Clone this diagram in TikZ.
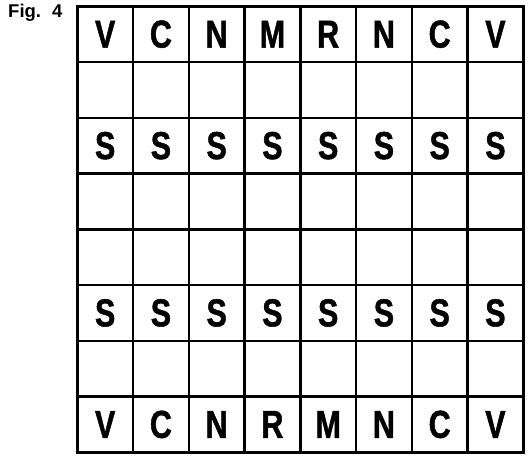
\documentclass[tikz,border=0pt]{standalone}
\usepackage{fontspec}
\setmainfont{Liberation Sans}
\newfontfamily\condbold{Liberation Sans}[FakeStretch=0.78,BoldFeatures={FakeBold=1.2}]
\begin{document}
\begin{tikzpicture}[x=1pt,y=1pt,
  cell/.style={draw=black,line width=2.6pt,minimum width=55.75pt,minimum height=55.75pt,inner sep=0pt,anchor=north west,
    font=\condbold\bfseries\fontsize{39}{39}\selectfont},
  figlabel/.style={anchor=base west,inner sep=0pt,font=\bfseries\fontsize{18.5}{18.5}\selectfont}]
\useasboundingbox (0,0) rectangle (530,459);
\def\rowA{{"V","C","N","M","R","N","C","V"}}
\def\rowB{{"V","C","N","R","M","N","C","V"}}
\foreach \r in {0,...,7}{
  \foreach \c in {0,...,7}{
    \pgfmathsetmacro{\xx}{76+55.75*\c}
    \pgfmathsetmacro{\yy}{454-55.75*\r}
    \ifnum\r=0
      \pgfmathsetmacro{\lab}{\rowA[\c]}
    \else\ifnum\r=7
      \pgfmathsetmacro{\lab}{\rowB[\c]}
    \else\ifnum\r=2
      \def\lab{S}
    \else\ifnum\r=5
      \def\lab{S}
    \else
      \def\lab{}
    \fi\fi\fi\fi
    \node[cell] (c\r\c) at (\xx,\yy) {\lab};
  }
}
\node[figlabel] (fig) at (8,441) {Fig.\hspace{0.6em}4};
\end{tikzpicture}
\end{document}
